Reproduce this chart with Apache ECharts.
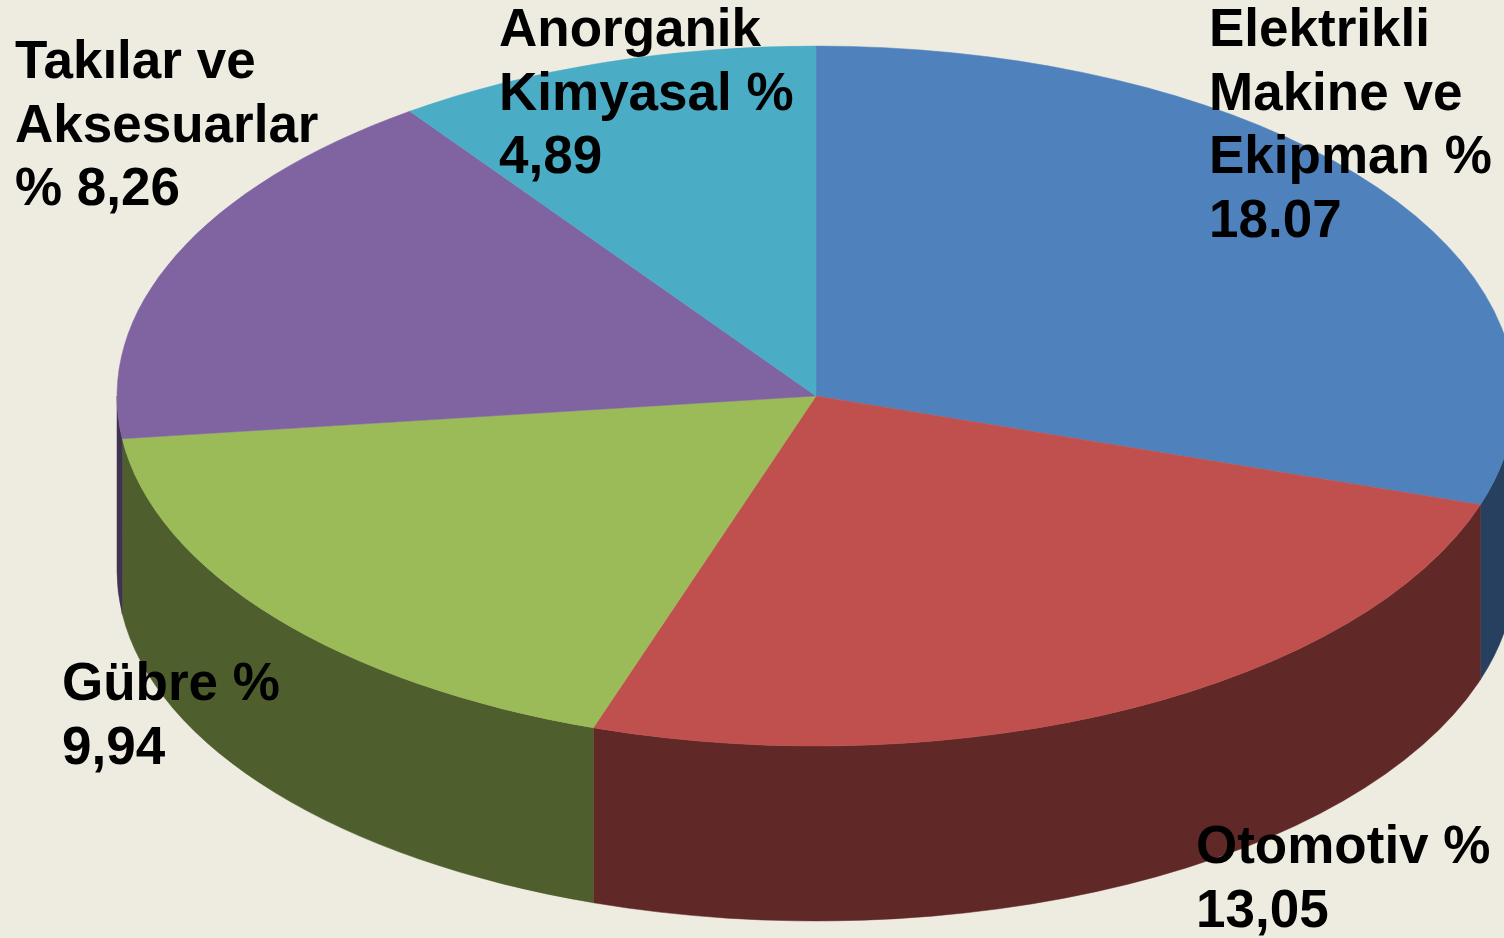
<!DOCTYPE html>
<html>
<head>
<meta charset="utf-8">
<title>Pasta grafik</title>
<style>
	html, body { margin: 0; height: 100%; background: #EEECE1; overflow: hidden; }
	#chart { width: 1504px; height: 938px; }
</style>
<script src="https://cdn.jsdelivr.net/npm/echarts@6/dist/echarts.min.js"></script>
</head>
<body>
<div id="chart"></div>
<script>
// slice sizes (share of the full circle, %)
const sliceShares = [30.03, 25.13, 17.89, 17.08, 9.87];
const labelTexts = [
	'Elektrikli\nMakine ve\nEkipman %\n18.07',
	'Otomotiv %\n13,05',
	'Gübre %\n9,94',
	'Takılar ve\nAksesuarlar\n% 8,26',
	'Anorganik\nKimyasal %\n4,89',
];
const topColors = ['#4F81BD', '#C0504D', '#9BBB59', '#8064A2', '#4BACC6'];
const sideColors = ['#284060', '#602826', '#4E5E2C', '#403251', '#265663'];

// pie layout
const cx = 816, cy = 396, rx = 699, ry = 350, depth = 175;
const labelPos = [[1209, 0], [1196, 817], [62, 654], [15, 32], [499, 0]];

const toXY = (deg, dy) => {
	const a = deg * Math.PI / 180;
	return [cx + rx * Math.sin(a), cy - ry * Math.cos(a) + (dy || 0)];
};
const arcTo = (from, to, dy, sweep) => {
	const p = toXY(to, dy);
	const large = Math.abs(to - from) > 180 ? 1 : 0;
	return `A${rx} ${ry} 0 ${large} ${sweep} ${p[0]} ${p[1]}`;
};

const renderItem = (params, api) => {
	const i = params.dataIndex;
	let before = 0;
	for (let k = 0; k < i; k++) before += sliceShares[k];
	const start = before * 3.6;
	const end = start + api.value(0) * 3.6;
	const children = [];

	// side wall only exists on the front half of the disc
	const a = Math.max(start, 90), b = Math.min(end, 270);
	if (b > a) {
		const p0 = toXY(a), p1 = toXY(b, depth);
		children.push({
			type: 'path',
			z2: 1,
			shape: { pathData: `M${p0[0]} ${p0[1]}${arcTo(a, b, 0, 1)}L${p1[0]} ${p1[1]}${arcTo(b, a, depth, 0)}Z` },
			// thin stroke in the same colour closes the seam between neighbours
			style: { fill: sideColors[i], stroke: sideColors[i], lineWidth: 0.5 },
		});
	}

	const s = toXY(start);
	children.push({
		type: 'path',
		z2: 2,
		shape: { pathData: `M${cx} ${cy}L${s[0]} ${s[1]}${arcTo(start, end, 0, 1)}Z` },
		style: { fill: topColors[i], stroke: topColors[i], lineWidth: 0.5 },
	});

	children.push({
		type: 'text',
		z2: 3,
		x: labelPos[i][0],
		y: labelPos[i][1],
		style: {
			text: labelTexts[i],
			fontFamily: '"Liberation Sans", Arial, sans-serif',
			fontWeight: 'bold',
			fontSize: 53,
			lineHeight: 63.5,
			fill: '#000',
		},
	});
	return { type: 'group', children: children };
};

const chart = echarts.init(document.getElementById('chart'));
chart.setOption({
	backgroundColor: '#EEECE1',
	animation: false,
	series: [{
		type: 'custom',
		coordinateSystem: 'none',
		silent: true,
		renderItem: renderItem,
		data: sliceShares.map(v => [v]),
	}],
});
</script>
</body>
</html>
